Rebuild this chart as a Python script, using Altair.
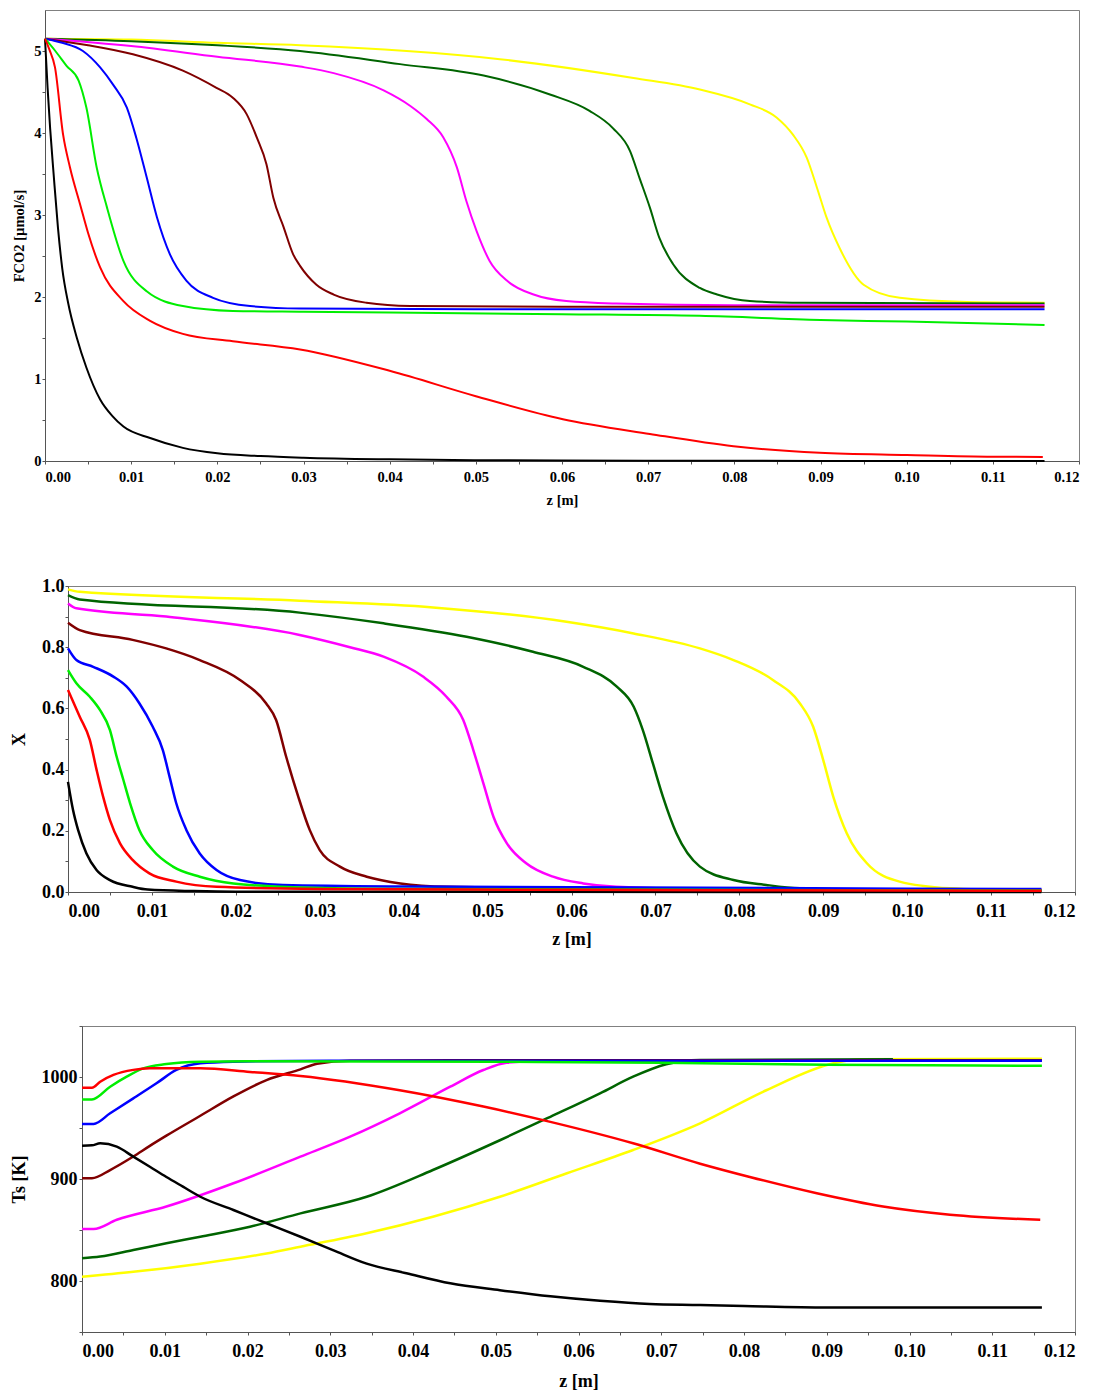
import altair as alt
import pandas as pd

FONT = "Liberation Serif"

# draw order (first drawn = bottom)
SERIES = ["yellow", "darkgreen", "magenta", "brown", "blue", "green", "black", "red"]
COLORS = ["#ffff00", "#006400", "#ff00ff", "#800000", "#0000ff", "#00ee00", "#000000", "#ff0000"]

# ---------------- Panel 1 : FCO2 [umol/s] ----------------
f_black_z = [0, 0.0003, 0.0006, 0.001, 0.0015, 0.002, 0.0027, 0.0037, 0.0048, 0.0064, 0.0078, 0.0091, 0.0122, 0.016, 0.02, 0.025, 0.03, 0.04, 0.05, 0.06, 0.08, 0.1, 0.116]
f_black_v = [5.15, 4.55, 4.05, 3.5, 2.85, 2.35, 1.92, 1.50, 1.14, 0.75, 0.55, 0.42, 0.28, 0.16, 0.094, 0.06, 0.04, 0.02, 0.01, 0.005, 0.002, 0.001, 0.0]
f_red_z = [0, 0.0005, 0.00116, 0.0021, 0.0029, 0.0041, 0.005, 0.0064, 0.0091, 0.0122, 0.016, 0.0218, 0.0296, 0.04, 0.05, 0.0601, 0.0702, 0.0799, 0.0899, 0.1, 0.11, 0.1158]
f_red_v = [5.15, 5.02, 4.80, 3.98, 3.58, 3.12, 2.78, 2.36, 1.95, 1.71, 1.55, 1.46, 1.36, 1.10, 0.79, 0.51, 0.33, 0.18, 0.10, 0.073, 0.052, 0.05]
f_green_z = [0, 0.0012, 0.0025, 0.0039, 0.0048, 0.006, 0.0072, 0.0091, 0.0118, 0.016, 0.0218, 0.03, 0.04, 0.06, 0.076, 0.09, 0.1, 0.116]
f_green_v = [5.15, 5.0, 4.82, 4.64, 4.31, 3.58, 3.09, 2.44, 2.07, 1.89, 1.83, 1.82, 1.81, 1.79, 1.77, 1.72, 1.70, 1.66]
f_blue_z = [0, 0.002, 0.0044, 0.0064, 0.0079, 0.0095, 0.0106, 0.0118, 0.013, 0.0145, 0.0164, 0.0195, 0.0238, 0.0296, 0.05, 0.08, 0.116]
f_blue_v = [5.15, 5.1, 5.0, 4.80, 4.59, 4.31, 3.94, 3.46, 2.97, 2.52, 2.20, 1.99, 1.89, 1.86, 1.85, 1.85, 1.85]
f_brown_z = [0, 0.005, 0.0102, 0.016, 0.0199, 0.0218, 0.0234, 0.0246, 0.0257, 0.0265, 0.0277, 0.0288, 0.0296, 0.0315, 0.0335, 0.0373, 0.0424, 0.06, 0.116]
f_brown_v = [5.15, 5.07, 4.96, 4.76, 4.55, 4.43, 4.23, 3.94, 3.62, 3.21, 2.85, 2.52, 2.38, 2.15, 2.03, 1.93, 1.89, 1.88, 1.88]
f_magenta_z = [0, 0.01, 0.02, 0.0296, 0.0335, 0.0393, 0.0424, 0.0443, 0.0462, 0.0478, 0.0489, 0.0501, 0.0516, 0.0536, 0.0567, 0.0605, 0.0663, 0.08, 0.116]
f_magenta_v = [5.15, 5.06, 4.93, 4.81, 4.73, 4.52, 4.33, 4.17, 3.95, 3.58, 3.17, 2.80, 2.44, 2.20, 2.03, 1.95, 1.92, 1.90, 1.90]
f_dgreen_z = [0, 0.01, 0.02, 0.0296, 0.0412, 0.0509, 0.0586, 0.0632, 0.0659, 0.0679, 0.069, 0.0702, 0.0713, 0.0729, 0.076, 0.078, 0.0818, 0.088, 0.116]
f_dgreen_v = [5.15, 5.12, 5.07, 5.0, 4.84, 4.70, 4.47, 4.27, 4.06, 3.78, 3.45, 3.09, 2.72, 2.40, 2.11, 2.03, 1.95, 1.93, 1.92]
f_yellow_z = [0, 0.01, 0.02, 0.0296, 0.0528, 0.0683, 0.076, 0.0818, 0.0849, 0.0868, 0.0884, 0.0896, 0.0907, 0.0922, 0.095, 0.0992, 0.107, 0.116]
f_yellow_v = [5.15, 5.14, 5.1, 5.07, 4.90, 4.67, 4.53, 4.35, 4.19, 3.98, 3.70, 3.33, 2.97, 2.60, 2.15, 1.99, 1.94, 1.93]

# ---------------- Panel 2 : X ----------------
x_black_z = [0, 0.0006, 0.0012, 0.0022, 0.0034, 0.005, 0.0077, 0.0095, 0.015, 0.02, 0.116]
x_black_v = [0.36, 0.268, 0.203, 0.126, 0.072, 0.039, 0.017, 0.008, 0.003, 0.001, 0.0]
x_red_z = [0, 0.0014, 0.0026, 0.0034, 0.0042, 0.005, 0.0062, 0.0077, 0.0097, 0.0129, 0.0177, 0.03, 0.06, 0.116]
x_red_v = [0.66, 0.573, 0.497, 0.40, 0.31, 0.235, 0.159, 0.105, 0.061, 0.034, 0.017, 0.01, 0.007, 0.004]
x_green_z = [0, 0.001, 0.0026, 0.0038, 0.005, 0.0058, 0.0066, 0.0074, 0.0085, 0.0101, 0.0125, 0.0157, 0.0197, 0.0276, 0.04, 0.116]
x_green_v = [0.725, 0.682, 0.638, 0.595, 0.529, 0.442, 0.366, 0.29, 0.203, 0.137, 0.083, 0.05, 0.028, 0.015, 0.01, 0.005]
x_blue_z = [0, 0.001, 0.003, 0.0054, 0.007, 0.0085, 0.0101, 0.0113, 0.0121, 0.0129, 0.0141, 0.0157, 0.0177, 0.0205, 0.0256, 0.04, 0.116]
x_blue_v = [0.796, 0.758, 0.736, 0.704, 0.671, 0.617, 0.54, 0.464, 0.377, 0.29, 0.203, 0.126, 0.072, 0.039, 0.023, 0.018, 0.01]
x_brown_z = [0, 0.0014, 0.0077, 0.0117, 0.0157, 0.0205, 0.0236, 0.0248, 0.026, 0.0274, 0.0288, 0.03, 0.0324, 0.0356, 0.0396, 0.0453, 0.06, 0.116]
x_brown_v = [0.88, 0.856, 0.824, 0.796, 0.758, 0.693, 0.617, 0.562, 0.442, 0.315, 0.203, 0.137, 0.083, 0.05, 0.028, 0.017, 0.012, 0.007]
x_magenta_z = [0, 0.001, 0.0117, 0.0276, 0.0336, 0.0376, 0.0423, 0.0451, 0.0471, 0.0483, 0.0495, 0.0507, 0.0523, 0.0546, 0.0578, 0.0614, 0.0653, 0.08, 0.116]
x_magenta_v = [0.943, 0.927, 0.9, 0.84, 0.80, 0.769, 0.704, 0.638, 0.562, 0.464, 0.355, 0.246, 0.159, 0.094, 0.05, 0.028, 0.017, 0.008, 0.004]
x_dgreen_z = [0, 0.0014, 0.0276, 0.0376, 0.0475, 0.0554, 0.0614, 0.0654, 0.0674, 0.0685, 0.0697, 0.0709, 0.0725, 0.0753, 0.0793, 0.0832, 0.0872, 0.1, 0.116]
x_dgreen_v = [0.97, 0.956, 0.913, 0.878, 0.834, 0.785, 0.736, 0.671, 0.606, 0.529, 0.42, 0.311, 0.192, 0.083, 0.039, 0.023, 0.012, 0.005, 0.003]
x_yellow_z = [0, 0.0014, 0.0276, 0.0435, 0.0594, 0.0674, 0.0753, 0.0793, 0.084, 0.0872, 0.0888, 0.09, 0.0912, 0.0928, 0.0952, 0.0991, 0.1051, 0.116]
x_yellow_v = [0.989, 0.981, 0.952, 0.93, 0.883, 0.845, 0.796, 0.758, 0.693, 0.617, 0.54, 0.431, 0.311, 0.192, 0.094, 0.034, 0.012, 0.003]

# ---------------- Panel 3 : Ts [K] ----------------
t_black_z = [0, 0.0012, 0.0022, 0.0042, 0.0062, 0.0082, 0.0102, 0.0122, 0.0143, 0.0183, 0.0223, 0.0264, 0.0304, 0.0344, 0.0392, 0.0445, 0.0505, 0.0566, 0.0626, 0.0686, 0.0747, 0.08, 0.09, 0.116]
t_black_v = [932.6, 933, 935, 931.7, 921.9, 912, 902, 892.5, 882.6, 869.6, 856.6, 843.4, 830, 817, 807.6, 797.7, 791, 785, 780.6, 777.5, 776.5, 775.5, 774, 774]
t_red_z = [0, 0.0012, 0.0022, 0.0038, 0.0062, 0.0082, 0.0143, 0.0203, 0.0264, 0.0384, 0.0485, 0.0566, 0.0666, 0.0747, 0.0807, 0.0888, 0.0968, 0.1049, 0.1158]
t_red_v = [989.5, 989.5, 995.4, 1002, 1007, 1008.5, 1008.5, 1005, 1001, 987, 971, 956, 935, 915, 902, 886, 873, 865, 860]
t_green_z = [0, 0.0012, 0.0034, 0.0054, 0.0074, 0.0102, 0.0143, 0.02, 0.05, 0.07, 0.09, 0.116]
t_green_v = [978, 978, 990.5, 1000.3, 1008.5, 1012.7, 1015, 1015.5, 1015, 1014, 1012, 1011]
t_blue_z = [0, 0.0014, 0.0034, 0.0062, 0.009, 0.0114, 0.0143, 0.0183, 0.03, 0.116]
t_blue_v = [954, 954, 964.4, 979, 993.8, 1006.9, 1013.4, 1015, 1016, 1016]
t_brown_z = [0, 0.0012, 0.0034, 0.0062, 0.0082, 0.0102, 0.0143, 0.0183, 0.0223, 0.0264, 0.0284, 0.0324, 0.05, 0.116]
t_brown_v = [900.7, 900.7, 908.8, 922, 932.5, 942.5, 962, 981, 997, 1007.5, 1013, 1016, 1016.5, 1016.5]
t_magenta_z = [0, 0.0014, 0.0042, 0.0102, 0.0183, 0.0264, 0.0324, 0.0384, 0.0445, 0.0485, 0.0513, 0.056, 0.116]
t_magenta_v = [851, 851, 860, 873, 895.8, 921.9, 941.5, 964.4, 990.5, 1006.9, 1014, 1016, 1016]
t_dgreen_z = [0, 0.0022, 0.0062, 0.0102, 0.0143, 0.0203, 0.0264, 0.0344, 0.0424, 0.0505, 0.0566, 0.0626, 0.0666, 0.0706, 0.0747, 0.098]
t_dgreen_v = [822.3, 824, 830.4, 837, 843.4, 853.2, 866.3, 882.6, 908.8, 938, 961, 984, 1000.3, 1012.5, 1016.7, 1017.4]
t_yellow_z = [0, 0.0062, 0.0143, 0.0223, 0.0264, 0.0344, 0.0424, 0.0505, 0.0586, 0.0666, 0.0747, 0.0827, 0.0908, 0.094, 0.116]
t_yellow_v = [804.2, 809, 817, 827, 833.6, 846.8, 863, 882.6, 905.6, 928.4, 954.6, 987, 1013.4, 1017.4, 1018]


def build(pairs):
    rows = []
    for name in SERIES:
        zs, vs = pairs[name]
        for z, v in zip(zs, vs):
            rows.append({"s": name, "z": z, "v": v})
    return pd.DataFrame(rows)


df_f = build({
    "black": (f_black_z, f_black_v), "red": (f_red_z, f_red_v), "green": (f_green_z, f_green_v),
    "blue": (f_blue_z, f_blue_v), "brown": (f_brown_z, f_brown_v), "magenta": (f_magenta_z, f_magenta_v),
    "darkgreen": (f_dgreen_z, f_dgreen_v), "yellow": (f_yellow_z, f_yellow_v)})
df_x = build({
    "black": (x_black_z, x_black_v), "red": (x_red_z, x_red_v), "green": (x_green_z, x_green_v),
    "blue": (x_blue_z, x_blue_v), "brown": (x_brown_z, x_brown_v), "magenta": (x_magenta_z, x_magenta_v),
    "darkgreen": (x_dgreen_z, x_dgreen_v), "yellow": (x_yellow_z, x_yellow_v)})
df_t = build({
    "black": (t_black_z, t_black_v), "red": (t_red_z, t_red_v), "green": (t_green_z, t_green_v),
    "blue": (t_blue_z, t_blue_v), "brown": (t_brown_z, t_brown_v), "magenta": (t_magenta_z, t_magenta_v),
    "darkgreen": (t_dgreen_z, t_dgreen_v), "yellow": (t_yellow_z, t_yellow_v)})

Z_TICKS = [round(i * 0.005, 3) for i in range(25)]
F_TICKS = [round(i * 0.5, 1) for i in range(11)]
X_TICKS = [round(i * 0.1, 1) for i in range(11)]
T_TICKS = [750 + 50 * i for i in range(7)]

AX = dict(grid=False, domainColor="#555555", tickColor="#555555", tickSize=3,
          labelFont=FONT, labelFontWeight="bold", labelColor="#000000",
          titleFont=FONT, titleFontWeight="bold", titleColor="#000000", labelOverlap=False)

FRAME = alt.ViewBackground(stroke="#808080", strokeWidth=1)
NOFRAME = alt.ViewBackground(stroke="transparent")


def panel(df, ytitle, ydomain, yticks, ylabelexpr, w, h, fs, lw,
          ypad, yext, ytitlepad, xpad, xtitlepad):
    xaxis = alt.Axis(title="z [m]", values=Z_TICKS,
                     labelExpr="(round(datum.value*1000) % 10 == 0) ? format(datum.value, '.2f') : ''",
                     labelFontSize=fs, titleFontSize=fs, labelPadding=xpad, titlePadding=xtitlepad, **AX)
    yaxis = alt.Axis(title=ytitle, values=yticks, labelExpr=ylabelexpr,
                     labelFontSize=fs, titleFontSize=fs, labelPadding=ypad,
                     minExtent=yext, maxExtent=yext, titlePadding=ytitlepad, **AX)
    return alt.Chart(df).mark_line(strokeWidth=lw, interpolate="monotone").encode(
        x=alt.X("z:Q", scale=alt.Scale(domain=[0, 0.12], nice=False), axis=xaxis),
        y=alt.Y("v:Q", scale=alt.Scale(domain=ydomain, nice=False), axis=yaxis),
        color=alt.Color("s:N", scale=alt.Scale(domain=SERIES, range=COLORS), legend=None),
        order=alt.Order("z:Q"),
    ).properties(width=w, height=h, view=FRAME)


def spacer(w):
    return alt.Chart(pd.DataFrame({"u": [0]})).mark_point(opacity=0).encode(
        x=alt.X("u:Q", axis=None), y=alt.Y("u:Q", axis=None)
    ).properties(width=w, height=10, view=NOFRAME)


top = panel(df_f, "FCO2 [µmol/s]", [0, 5.5], F_TICKS,
            "(round(datum.value*10) % 10 == 0) ? format(datum.value, 'd') : ''",
            1034, 451, 14.5, 2, 1, 12, 7, 6, 10)
mid = panel(df_x, "X", [0, 1], X_TICKS,
            "(round(datum.value*10) % 2 == 0) ? format(datum.value, '.1f') : ''",
            1007, 306, 18, 2.5, 1, 27, 13, 7, 10)
bot = panel(df_t, "Ts [K]", [750, 1050], T_TICKS,
            "(round(datum.value) % 100 == 0) ? format(datum.value, 'd') : ''",
            993, 306, 18, 2.5, 2, 41, 12.5, 7, 12)

row1 = alt.hconcat(spacer(2), top, spacing=0)
row2 = alt.hconcat(spacer(1), mid, spacing=0)
row3 = alt.hconcat(spacer(2), bot, spacing=0)

chart = alt.vconcat(alt.vconcat(row1, row2, spacing=68), row3, spacing=67).properties(
    padding={"left": 2, "top": 9, "right": 0, "bottom": 0},
    background="#ffffff",
)

chart.save("out.html", embed_options={"renderer": "svg", "actions": False})
